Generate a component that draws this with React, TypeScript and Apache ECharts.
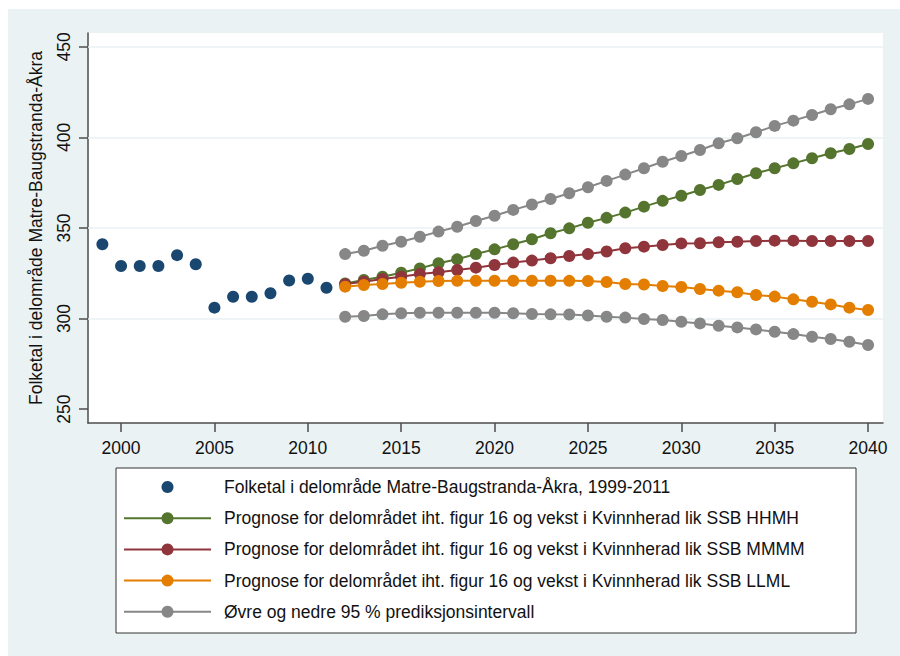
import React, { useEffect, useRef } from "react";
import * as echarts from "echarts";

const histYears = [1999, 2000, 2001, 2002, 2003, 2004, 2005, 2006, 2007, 2008, 2009, 2010, 2011];
const histValues = [341, 329, 329, 329, 335, 330, 306, 312, 312, 314, 321, 322, 317];

const projYears = [
  2012, 2013, 2014, 2015, 2016, 2017, 2018, 2019, 2020, 2021, 2022, 2023, 2024, 2025, 2026,
  2027, 2028, 2029, 2030, 2031, 2032, 2033, 2034, 2035, 2036, 2037, 2038, 2039, 2040,
];
const hhmh = [
  319.4, 321.3, 323.1, 325.3, 327.7, 330.5, 332.7, 335.6, 338.2, 341, 343.8, 347.1, 349.8, 352.9, 355.6,
  358.5, 361.8, 365, 367.8, 371, 373.8, 377.1, 380.2, 383, 385.7, 388.5, 391.3, 393.6, 396.4,
];
const mmmm = [
  319, 320.3, 321.8, 323.1, 324.6, 325.5, 326.8, 328.1, 329.6, 330.9, 332, 333.3, 334.5, 335.6, 337,
  338.8, 339.7, 340.6, 341.5, 341.6, 342.1, 342.4, 342.8, 343, 343, 342.8, 342.8, 342.8, 342.8,
];
const llml = [
  317.6, 318.5, 319.1, 319.8, 320.3, 320.7, 320.8, 320.9, 320.9, 320.9, 320.9, 320.9, 320.8, 320.7, 320.2,
  319.1, 318.8, 318, 317.4, 316.3, 315.4, 314.5, 313, 312.1, 310.6, 309.3, 307.8, 306, 304.7,
];
const upper95 = [
  335.6, 337.4, 340.2, 342.4, 345.2, 348, 350.7, 353.9, 356.8, 360, 363, 366, 369.2, 372.5, 376,
  379.5, 383, 386.6, 389.8, 393.1, 396.8, 399.6, 402.9, 406.4, 409.3, 412.4, 415.6, 418.3, 421.3,
];
const lower95 = [
  301, 301.4, 302.3, 302.9, 303.2, 303.2, 303.2, 303.2, 303.2, 302.9, 302.5, 302.3, 302.2, 301.7, 301,
  300.5, 299.7, 299.2, 298.2, 297.3, 296, 295.1, 294, 292.7, 291.4, 289.9, 288.7, 287.2, 285.4,
];

const xTicks = [2000, 2005, 2010, 2015, 2020, 2025, 2030, 2035, 2040];
const yTicks = [250, 300, 350, 400, 450];
const yGridLines = [300, 350, 400, 450];

const names = {
  hist: "Folketal i delområde Matre-Baugstranda-Åkra, 1999-2011",
  hhmh: "Prognose for delområdet iht. figur 16 og vekst i Kvinnherad lik SSB HHMH",
  mmmm: "Prognose for delområdet iht. figur 16 og vekst i Kvinnherad lik SSB MMMM",
  llml: "Prognose for delområdet iht. figur 16 og vekst i Kvinnherad lik SSB LLML",
  ci: "Øvre og nedre 95 % prediksjonsintervall",
};
const yTitle = "Folketal i delområde Matre-Baugstranda-Åkra";

const colors = {
  navy: "#1a476f",
  green: "#55752f",
  maroon: "#90353b",
  orange: "#e37e00",
  gray: "#878787",
  bg: "#eaf2f3",
  axis: "#4d4d4d",
};

const FONT = '"Liberation Sans", Arial, sans-serif';
const FS = 17.5;

const pairs = (xs: number[], ys: number[]) => xs.map((x, i) => [x, ys[i]]);

export default function App() {
  const ref = useRef<HTMLDivElement>(null);
  useEffect(() => {
    document.body.style.margin = "0";
    if (!ref.current) return;
    const chart = echarts.init(ref.current, null, { renderer: "svg" });
    const lineSeries = (name: string, ys: number[], color: string, z: number) => ({
      type: "line",
      name,
      data: pairs(projYears, ys),
      symbol: "circle",
      symbolSize: 12,
      showSymbol: true,
      z,
      lineStyle: { color, width: 2 },
      itemStyle: { color },
      emphasis: { disabled: true },
    });
    chart.setOption({
      animation: false,
      backgroundColor: "#ffffff",
      textStyle: { fontFamily: FONT },
      graphic: [
        {
          type: "rect",
          z: -10,
          shape: { x: 8, y: 9, width: 892, height: 647 },
          style: { fill: colors.bg },
          silent: true,
        },
        {
          type: "rect",
          z: -9,
          shape: { x: 88, y: 33, width: 795, height: 390 },
          style: { fill: "#ffffff" },
          silent: true,
        },
        {
          type: "rect",
          z: -9,
          shape: { x: 116, y: 468, width: 740, height: 165 },
          style: { fill: "#ffffff", stroke: "#333333", lineWidth: 1 },
          silent: true,
        },
      ],
      grid: { left: 88, top: 33, width: 795, height: 390, containLabel: false },
      xAxis: {
        type: "value",
        min: 1998.23,
        max: 2040.8,
        axisLine: { show: true, onZero: false, lineStyle: { color: colors.axis, width: 1.5 } },
        axisTick: { show: true, length: 9, customValues: xTicks, lineStyle: { color: colors.axis, width: 1.5 } },
        axisLabel: {
          customValues: xTicks,
          formatter: (v: number) => String(v),
          fontSize: FS,
          color: "#111111",
          margin: 16,
          fontFamily: FONT,
        },
        splitLine: { show: false },
      },
      yAxis: {
        type: "value",
        min: 242.3,
        max: 457.7,
        name: yTitle,
        nameLocation: "middle",
        nameRotate: 90,
        nameGap: 43,
        nameTextStyle: { fontSize: FS, color: "#111111", fontFamily: FONT },
        axisLine: { show: true, onZero: false, lineStyle: { color: colors.axis, width: 1.5 } },
        axisTick: { show: true, length: 9, customValues: yTicks, lineStyle: { color: colors.axis, width: 1.5 } },
        axisLabel: {
          customValues: yTicks,
          formatter: (v: number) => String(v),
          rotate: 90,
          fontSize: FS,
          color: "#111111",
          margin: 15,
          fontFamily: FONT,
        },
        splitLine: { show: false },
      },
      legend: {
        orient: "vertical",
        left: 123,
        top: 478,
        padding: 0,
        itemWidth: 87,
        itemHeight: 15,
        itemGap: 13.2,
        selectedMode: false,
        textStyle: { fontSize: FS, color: "#111111", lineHeight: FS, padding: [0, 0, 0, 8], fontFamily: FONT },
        data: [names.hist, names.hhmh, names.mmmm, names.llml, names.ci],
      },
      series: [
        {
          type: "line",
          name: names.hist,
          data: pairs(histYears, histValues),
          symbol: "circle",
          symbolSize: 12,
          showSymbol: true,
          z: 2,
          lineStyle: { width: 0, opacity: 0, color: colors.navy },
          itemStyle: { color: colors.navy },
          emphasis: { disabled: true },
          markLine: {
            silent: true,
            z: 1,
            symbol: "none",
            label: { show: false },
            lineStyle: { color: colors.bg, width: 1.5, type: "solid" },
            emphasis: { disabled: true },
            data: yGridLines.map((v) => ({ yAxis: v })),
          },
        },
        lineSeries(names.hhmh, hhmh, colors.green, 3),
        lineSeries(names.mmmm, mmmm, colors.maroon, 4),
        lineSeries(names.llml, llml, colors.orange, 5),
        lineSeries(names.ci, upper95, colors.gray, 6),
        lineSeries(names.ci, lower95, colors.gray, 6),
      ],
    });
    return () => chart.dispose();
  }, []);
  return <div ref={ref} style={{ width: 900, height: 656 }} />;
}
